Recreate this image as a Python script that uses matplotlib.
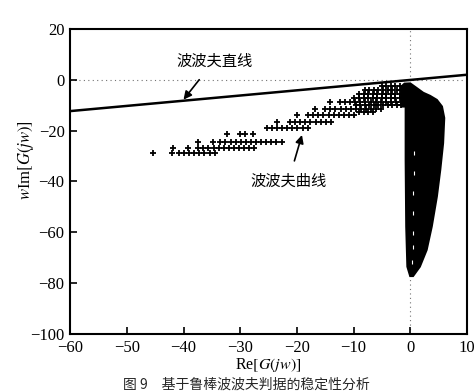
import matplotlib
matplotlib.use("Agg")
import matplotlib.pyplot as plt
import numpy as np

plt.rcParams['font.family'] = ['Liberation Serif', 'Noto Sans CJK SC', 'DejaVu Sans']
plt.rcParams['mathtext.fontset'] = 'stix'

# Popov straight line end points
line_x = [-60, 10]
line_y = [-12.3, 2.0]

# Popov curve: sparse tail markers, grouped by rows (y level, x values)
tail_rows = [
    (-28.9, [-45.4, -42.0, -40.8, -39.9, -39.0, -38.1, -37.2, -36.3, -35.4, -34.5]),
    (-26.9, [-41.8, -39.2, -37.4, -36.5, -35.6, -34.7, -33.8, -32.9, -32.0, -31.1, -30.2, -29.3, -28.4, -27.5]),
    (-24.3, [-37.4, -34.8, -33.5, -32.6, -31.7, -30.8, -29.9, -29.0, -28.1, -27.2, -26.3, -25.4, -24.5, -23.6, -22.7]),
    (-21.3, [-32.4, -30.0, -29.1, -27.7]),
    (-19.0, [-25.3, -24.4, -23.5, -22.6, -21.7, -20.8, -19.9, -19.0, -18.1]),
    (-16.4, [-23.5, -21.2, -20.3, -19.4, -18.5, -17.6, -16.7, -15.8, -14.9, -14.0]),
    (-13.8, [-20.0, -18.0, -17.1, -16.2, -15.3, -14.4, -13.5, -12.6, -11.7, -10.8, -9.9]),
    (-12.8, [-9.0, -8.2, -7.4, -6.6]),
    (-11.4, [-16.8, -15.0, -14.1, -13.2, -12.3, -11.4, -10.5, -9.6, -8.7, -7.8, -6.9, -6.0, -5.1]),
    (-10.0, [-9.6, -8.8, -8.0, -7.2, -6.4, -5.6, -4.8, -4.0, -3.2, -2.4, -1.6]),
    (-8.7, [-14.1, -12.4, -11.5, -10.6, -9.7, -8.8, -7.9, -7.0, -6.1, -5.2, -4.3, -3.4, -2.5, -1.6]),
    (-7.0, [-10.0, -9.0, -8.2, -7.4, -6.6, -5.8, -5.0, -4.2, -3.4, -2.6, -1.8, -1.0]),
    (-5.5, [-9.0, -8.2, -7.4, -6.6, -5.8, -5.0, -4.2, -3.4, -2.6, -1.8, -1.0]),
    (-4.0, [-8.0, -7.2, -6.4, -5.6, -4.8, -4.0, -3.2, -2.4, -1.6, -0.8]),
    (-2.5, [-5.0, -4.2, -3.4, -2.6, -1.8, -1.0]),
]

# Dense part of the Popov curve family (outline)
blob_x = [-0.8, -0.8, -0.7, -0.5, 0.0, 0.5, 1.7, 2.9, 3.8, 4.7, 5.3, 5.8, 6.0, 5.6, 4.7, 3.5, 2.3, 1.0, 0.0, -1.0, -1.5, -1.5]
blob_y = [-10.5, -31.5, -57.7, -73.5, -77.2, -77.2, -73.5, -66.9, -57.7, -45.9, -35.4, -24.9, -15.0, -10.5, -7.9, -6.3, -5.1, -3.0, -1.4, -1.5, -2.5, -10.5]

# white gaps inside the dense part
gap_x = [0.6, 0.6, 0.55, 0.5, 0.45, 0.45, 0.4]
gap_y = [-28.9, -36.7, -44.6, -52.5, -60.4, -65.6, -71.5]

xticks = [-60, -50, -40, -30, -20, -10, 0, 10]
yticks = [-100, -80, -60, -40, -20, 0, 20]

fig = plt.figure(figsize=(4.74, 3.92), dpi=100)
ax = fig.add_axes([0.148, 0.148, 0.837, 0.778])

ax.axhline(0, color='0.45', lw=0.8, ls=(0, (1, 3)), zorder=1)
ax.axvline(0, color='0.45', lw=0.8, ls=(0, (1, 3)), zorder=1)

ax.plot(line_x, line_y, color='black', lw=1.8, zorder=3)

tx = [x for y, xs in tail_rows for x in xs]
ty = [y for y, xs in tail_rows for x in xs]
ax.plot(tx, ty, linestyle='none', marker='+', ms=5, mew=1.3, color='black', zorder=2)

ax.fill(blob_x, blob_y, color='black', lw=1.5, edgecolor='black', zorder=2)
ax.plot(gap_x, gap_y, linestyle='none', marker='|', ms=3.5, mew=0.8, color='white', zorder=4)

ax.annotate('波波夫直线', xy=(-40.0, -7.8), xytext=(-34.6, 7.5),
            ha='center', va='center', fontsize=11, family=['Noto Sans CJK SC'],
            arrowprops=dict(arrowstyle='-|>', color='black', lw=1.2,
                            mutation_scale=12, shrinkA=7, shrinkB=0))
ax.annotate('波波夫曲线', xy=(-19.1, -21.7), xytext=(-21.5, -40.0),
            ha='center', va='center', fontsize=11, family=['Noto Sans CJK SC'],
            arrowprops=dict(arrowstyle='-|>', color='black', lw=1.2,
                            mutation_scale=12, shrinkA=7, shrinkB=0))

ax.set_xlim(-60, 10)
ax.set_ylim(-100, 20)
ax.set_xticks(xticks)
ax.set_yticks(yticks)
ax.set_xticklabels([f'\u2212{-v}' if v < 0 else str(v) for v in xticks])
ax.set_yticklabels([f'\u2212{-v}' if v < 0 else str(v) for v in yticks])
ax.tick_params(direction='in', length=5, width=1.2, labelsize=12, pad=4)
for s in ax.spines.values():
    s.set_linewidth(1.5)

ax.set_xlabel(r'Re$[G(jw)]$', fontsize=11.5, labelpad=0)
ax.set_ylabel(r'$w$Im$[G(jw)]$', fontsize=12)
ax.yaxis.set_label_coords(-0.085, 0.57)

fig.text(0.52, 0.002, '图 9　基于鲁棒波波夫判据的稳定性分析', ha='center', va='bottom',
         fontsize=10, family=['Noto Sans CJK SC'], color='0.15')

fig.savefig('out.png', dpi=100)
